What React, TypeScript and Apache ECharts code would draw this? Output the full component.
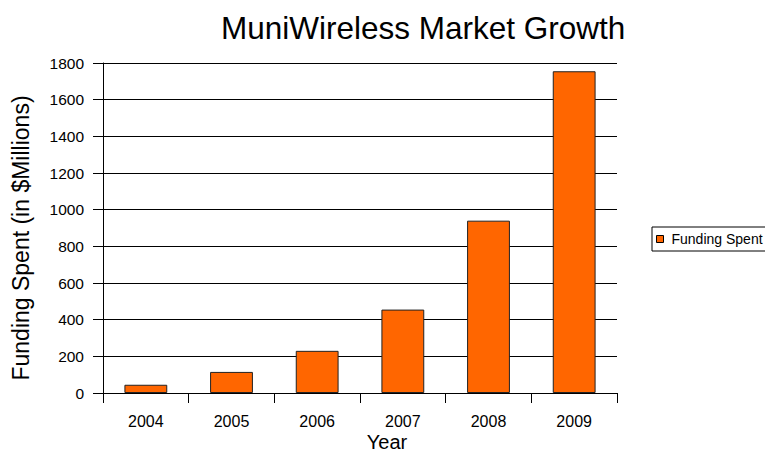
import React, { useEffect, useRef } from "react";
import * as echarts from "echarts";

const categories = ["2004", "2005", "2006", "2007", "2008", "2009"];
const fundingSpent = [45, 115, 230, 455, 940, 1755];
const seriesName = "Funding Spent";
const yAxisTitle = "Funding Spent (in $Millions)";
const xAxisTitle = "Year";

const FONT = "'Liberation Sans', Arial, Helvetica, sans-serif";

export default function App() {
  const ref = useRef<HTMLDivElement>(null);
  useEffect(() => {
    if (!ref.current) return;
    const chart = echarts.init(ref.current, undefined, { renderer: "svg" });
    chart.setOption({
      animation: false,
      backgroundColor: "#ffffff",
      textStyle: { fontFamily: FONT, color: "#000" },
      title: {
        text: "MuniWireless Market Growth",
        left: 221,
        top: 12,
        padding: 0,
        textStyle: { fontFamily: FONT, fontSize: 31.5, fontWeight: "normal", color: "#000" },
      },
      legend: {
        data: [seriesName],
        left: 652,
        top: 227,
        orient: "vertical",
        icon: "rect",
        itemWidth: 7,
        itemHeight: 7,
        itemGap: 0,
        padding: [5, 8, 5, 4],
        borderColor: "#000",
        borderWidth: 1,
        borderRadius: 0,
        textStyle: { fontFamily: FONT, fontSize: 14, color: "#000", padding: [0, 0, 0, 3] },
        itemStyle: { borderColor: "#000", borderWidth: 1 },
      },
      graphic: [
        {
          type: "text",
          x: 21,
          y: 238,
          rotation: Math.PI / 2,
          style: {
            text: yAxisTitle,
            fontFamily: FONT,
            fontSize: 23,
            fill: "#000",
            textAlign: "center",
            textVerticalAlign: "middle",
          },
        },
        {
          type: "text",
          x: 387,
          y: 442,
          style: {
            text: xAxisTitle,
            fontFamily: FONT,
            fontSize: 20,
            fill: "#000",
            textAlign: "center",
            textVerticalAlign: "middle",
          },
        },
      ],
      grid: { left: 103, right: 148, top: 63, bottom: 75, containLabel: false },
      xAxis: {
        type: "category",
        data: categories,
        axisLine: { lineStyle: { color: "#000", width: 1 } },
        axisTick: { show: true, alignWithLabel: false, length: 10, lineStyle: { color: "#000" } },
        axisLabel: { fontFamily: FONT, fontSize: 16, color: "#000", margin: 20 },
        splitLine: { show: false },
      },
      yAxis: {
        type: "value",
        min: 0,
        max: 1800,
        interval: 200,
        axisLine: { show: true, lineStyle: { color: "#000", width: 1 } },
        axisTick: { show: true, length: 10, lineStyle: { color: "#000" } },
        axisLabel: {
          fontFamily: FONT,
          fontSize: 15.5,
          color: "#000",
          margin: 19,
          formatter: (v: number) => String(v),
        },
        splitLine: { show: true, lineStyle: { color: "#000", width: 1 } },
      },
      series: [
        {
          name: seriesName,
          type: "bar",
          data: fundingSpent,
          barWidth: "50%",
          itemStyle: { color: "#FF6600", borderColor: "#222", borderWidth: 1 },
        },
      ],
    });
    return () => chart.dispose();
  }, []);
  return (
    <div
      ref={ref}
      style={{ position: "fixed", left: 0, top: 0, width: 765, height: 468, background: "#fff" }}
    />
  );
}
